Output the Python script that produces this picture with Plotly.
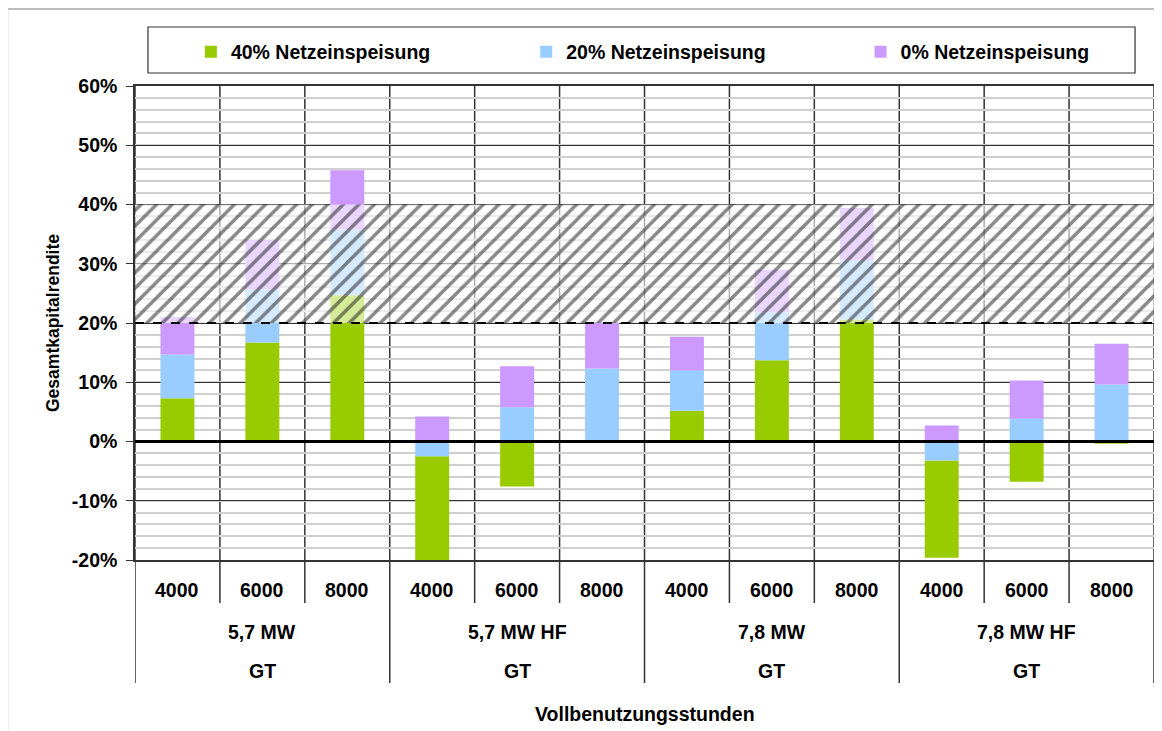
import plotly.graph_objects as go

# x axis table: hours per column, plant variant per group, technology per group
hours = ["4000", "6000", "8000"] * 4
groups = ["5,7 MW", "5,7 MW HF", "7,8 MW", "7,8 MW HF"]
techs = ["GT", "GT", "GT", "GT"]

series_names = ["40% Netzeinspeisung", "20% Netzeinspeisung", "0% Netzeinspeisung"]
colors = ["#99CC00", "#99CCFF", "#CC99FF"]

# Gesamtkapitalrendite in %
ne40 = [7.3, 16.7, 24.7, -20.0, -7.6, 0.0, 5.2, 13.7, 20.6, -19.6, -6.8, -0.4]
ne20 = [14.7, 25.7, 35.8, -2.5, 5.8, 12.3, 12.0, 21.8, 30.6, -3.2, 3.9, 9.6]
ne0 = [21.0, 34.0, 45.8, 4.2, 12.7, 20.1, 17.7, 29.0, 39.4, 2.7, 10.3, 16.5]

# y ticks
yticks = [-20, -10, 0, 10, 20, 30, 40, 50, 60]
yticktext = [f"{t}%" for t in yticks]

# target band (hatched)
band_low, band_high = 20, 40

FONT = "Liberation Sans, Arial, sans-serif"
series = [ne40, ne20, ne0]
n = len(hours)
pos = list(range(n))


def bases_for(series):
    # overlapping columns: each visible part starts at the next value closer to zero
    out = []
    for s in series:
        b = []
        for i, v in enumerate(s):
            col = [t[i] for t in series]
            closer = [w for w in col if (w > 0) == (v > 0) and abs(w) < abs(v)]
            b.append(max(closer, key=abs) if closer else 0)
        out.append(b)
    return out


bases = bases_for(series)
legend_ids = ["legend", "legend2", "legend3"]

fig = go.Figure()
for name, vals, base, col, lg in zip(series_names, series, bases, colors, legend_ids):
    fig.add_trace(go.Bar(
        x=pos, y=[v - b for v, b in zip(vals, base)], base=base,
        name=name, marker=dict(color=col, line=dict(width=0)), width=0.4,
        legend=lg,
    ))

# hatched band drawn over the bars
fig.add_trace(go.Scatter(
    x=[-0.5, n - 0.5, n - 0.5, -0.5, -0.5],
    y=[band_low, band_low, band_high, band_high, band_low],
    fill="toself", mode="lines", line=dict(width=0),
    fillcolor="rgba(0,0,0,0)",
    fillpattern=dict(shape="/", fgcolor="#111111", bgcolor="rgba(255,255,255,0.6)",
                     size=11, solidity=0.32),
    showlegend=False, hoverinfo="skip",
))

shapes = []
# zero line and dashed line at the lower band edge
shapes.append(dict(type="line", xref="paper", yref="y", x0=0, x1=1, y0=0, y1=0,
                   line=dict(color="black", width=3), layer="above"))
shapes.append(dict(type="line", xref="paper", yref="y", x0=0, x1=1, y0=band_low, y1=band_low,
                   line=dict(color="black", width=2, dash="dash"), layer="above"))

# table lines below the plot
row1 = -43 / 474
rowend = -123 / 474
for i in range(n + 1):
    xb = i - 0.5
    is_group = i % 3 == 0
    shapes.append(dict(type="line", xref="x", yref="paper", x0=xb, x1=xb,
                       y0=rowend if is_group else row1, y1=1,
                       line=dict(color="#333333", width=1.5), layer="below"))

# legend box and outer frame
shapes.append(dict(type="rect", xref="paper", yref="paper",
                   x0=13 / 1021, x1=1002 / 1021, y0=487 / 474, y1=533 / 474,
                   line=dict(color="#333333", width=1.2)))
shapes.append(dict(type="rect", xref="paper", yref="paper",
                   x0=-128 / 1021, x1=1.02, y0=-0.4, y1=551 / 474,
                   line=dict(color="#BBBBBB", width=2)))

annotations = []
bold = dict(family=FONT, size=19.5, color="black", weight="bold")
for i, h in enumerate(hours):
    annotations.append(dict(x=i, y=-30 / 474, xref="x", yref="paper", text=h,
                            showarrow=False, font=bold, yanchor="middle"))
for g, (grp, tech) in enumerate(zip(groups, techs)):
    annotations.append(dict(x=3 * g + 1, y=-72 / 474, xref="x", yref="paper", text=grp,
                            showarrow=False, font=bold, yanchor="middle"))
    annotations.append(dict(x=3 * g + 1, y=-111 / 474, xref="x", yref="paper", text=tech,
                            showarrow=False, font=bold, yanchor="middle"))
annotations.append(dict(x=0.5, y=-154 / 474, xref="paper", yref="paper",
                        text="Vollbenutzungsstunden", showarrow=False, font=bold,
                        yanchor="middle"))

legend_style = dict(orientation="h", xanchor="left", y=508 / 474, yanchor="middle",
                    font=dict(family=FONT, size=19.5, weight="bold"),
                    bgcolor="rgba(0,0,0,0)")

fig.update_layout(
    width=1154, height=723,
    margin=dict(l=127, r=6, t=78, b=171),
    paper_bgcolor="white", plot_bgcolor="white",
    barmode="overlay",
    font=dict(family=FONT, size=19.5, color="black"),
    showlegend=True,
    legend=dict(x=56 / 1021, **legend_style),
    legend2=dict(x=392 / 1021, **legend_style),
    legend3=dict(x=727 / 1021, **legend_style),
    xaxis=dict(range=[-0.5, n - 0.5], showticklabels=False, showgrid=False,
               zeroline=False, showline=True, linecolor="#333333", linewidth=1.5,
               mirror=True, ticks=""),
    yaxis=dict(range=[-20, 60], tickvals=yticks, ticktext=yticktext, showgrid=True,
               gridcolor="#333333", gridwidth=1, zeroline=False,
               minor=dict(dtick=2, showgrid=True, gridcolor="#D0D0D0", gridwidth=1.5),
               showline=True, linecolor="#333333", linewidth=1.5, mirror=True,
               ticks="outside", ticklen=7, tickcolor="#333333", ticklabelstandoff=5,
               tickfont=dict(family=FONT, size=19.5, weight="bold"),
               title=dict(text="Gesamtkapitalrendite", standoff=8,
                          font=dict(family=FONT, size=17.5, weight="bold"))),
    shapes=shapes,
    annotations=annotations,
)

fig.write_html("out.html")
